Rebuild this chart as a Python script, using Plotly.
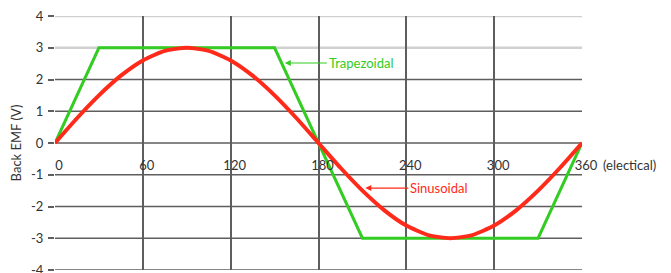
import plotly.graph_objects as go

# Data
angle_sin = [0, 15, 30, 45, 60, 75, 90, 105, 120, 135, 150, 165, 180,
             195, 210, 225, 240, 255, 270, 285, 300, 315, 330, 345, 360]
emf_sin = [0, 0.78, 1.5, 2.12, 2.6, 2.9, 3.0, 2.9, 2.6, 2.12, 1.5, 0.78, 0,
           -0.78, -1.5, -2.12, -2.6, -2.9, -3.0, -2.9, -2.6, -2.12, -1.5, -0.78, 0]

angle_trap = [0, 30, 150, 210, 330, 360]
emf_trap = [0, 3, 3, -3, -3, 0]

x_ticks = [0, 60, 120, 180, 240, 300, 360]
y_ticks = [-4, -3, -2, -1, 0, 1, 2, 3, 4]

RED = "#ff2a1a"
GREEN = "#33cc22"
GRID_DARK = "#5e5e5e"
GRID_LIGHT = "#d0d0d0"
TEXT = "#333333"
FONT = "Lato"

fig = go.Figure()
fig.add_trace(go.Scatter(x=angle_trap, y=emf_trap, mode="lines",
                         line=dict(color=GREEN, width=3), showlegend=False))
fig.add_trace(go.Scatter(x=angle_sin, y=emf_sin, mode="lines",
                         line=dict(color=RED, width=4, shape="spline", smoothing=0.6),
                         showlegend=False))

# horizontal grid lines
for yv in y_ticks:
    light = yv >= 3
    fig.add_shape(type="line", xref="paper", x0=0, x1=1, yref="y", y0=yv, y1=yv,
                  line=dict(color=GRID_LIGHT if light else GRID_DARK,
                            width=2.5 if light else 1.5),
                  layer="between")

# the page body has an 8px margin, so the figure is sized to fill the window
fig.update_layout(
    width=663, height=265,
    margin=dict(l=47, r=89, t=8, b=3, autoexpand=False),
    paper_bgcolor="white", plot_bgcolor="white",
    font=dict(family=FONT, size=13, color=TEXT),
    xaxis=dict(range=[0, 360], tickvals=x_ticks, ticktext=[str(v) for v in x_ticks],
               showgrid=True, gridcolor=GRID_DARK, gridwidth=1.5,
               zeroline=False, showline=False, ticks="",
               anchor="free", position=0.5, ticklabelstandoff=13, ticklabelshift=4,
               ticklabeloverflow="allow",
               tickfont=dict(family=FONT, size=13, color=TEXT)),
    yaxis=dict(range=[-4, 4], tickvals=y_ticks, ticktext=[str(v) for v in y_ticks],
               showgrid=False, zeroline=False, showline=False, automargin=False,
               ticks="outside", ticklen=6, tickwidth=1.5, tickcolor=GRID_DARK,
               ticklabelstandoff=2, ticklabeloverflow="allow",
               title=dict(text="Back EMF (V)", standoff=8,
                          font=dict(family=FONT, size=13, color=TEXT)),
               tickfont=dict(family=FONT, size=13, color=TEXT)),
    annotations=[
        dict(x=157, y=2.52, xref="x", yref="y", text="Trapezoidal",
             showarrow=True, ax=42, ay=0, xanchor="left", arrowhead=2,
             arrowsize=1, arrowwidth=1.2, arrowcolor=GREEN,
             font=dict(family=FONT, size=13, color=GREEN)),
        dict(x=212, y=-1.42, xref="x", yref="y", text="Sinusoidal",
             showarrow=True, ax=43, ay=0, xanchor="left", arrowhead=2,
             arrowsize=1, arrowwidth=1.2, arrowcolor=RED,
             font=dict(family=FONT, size=13, color=RED)),
        dict(x=360, y=0, xref="x", yref="y", text="(electical)",
             showarrow=False, xanchor="left", yanchor="top", xshift=19, yshift=-12,
             font=dict(family=FONT, size=13, color=TEXT)),
    ],
)

fig.write_html("out.html")
